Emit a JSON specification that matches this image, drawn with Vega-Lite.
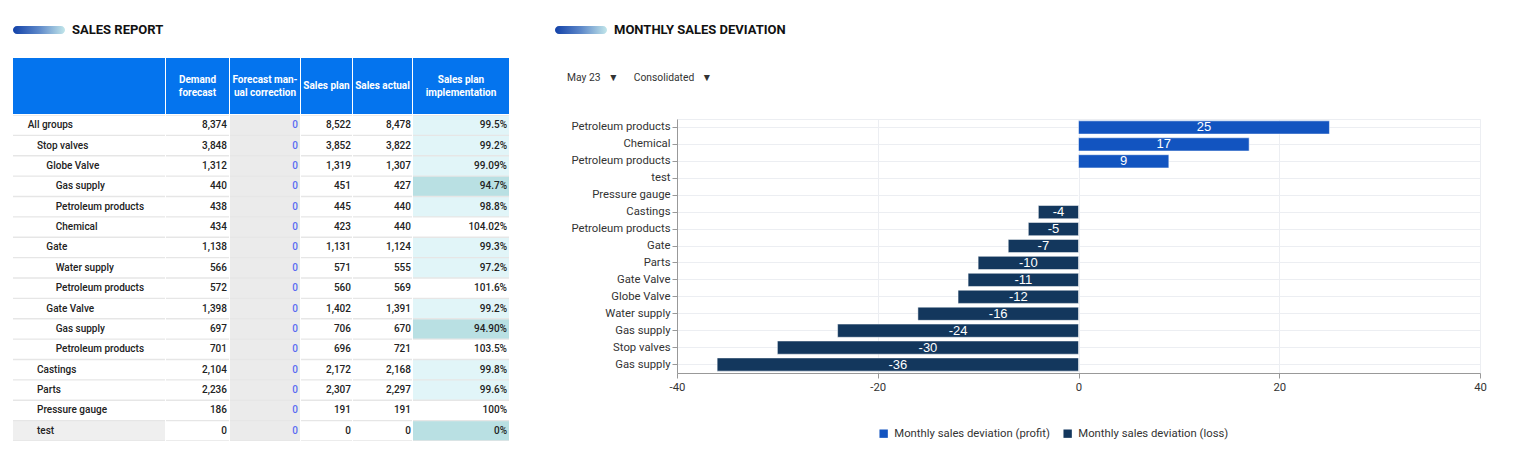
{
  "$schema": "https://vega.github.io/schema/vega-lite/v6.json",
  "padding": {"left": 13, "top": 22, "right": 0, "bottom": 0},
  "config": {"font": "Roboto", "view": {"stroke": null},
    "locale": {"number": {"decimal": ".", "thousands": ",", "grouping": [3], "currency": ["$", ""], "minus": "-"}}},
  "datasets": {
    "table": [
      {"row": 1, "name": "All groups", "level": 0, "demand": 8374, "correction": 0, "plan": 8522, "actual": 8478, "impl": 99.5, "implLabel": "99.5%"},
      {"row": 2, "name": "Stop valves", "level": 1, "demand": 3848, "correction": 0, "plan": 3852, "actual": 3822, "impl": 99.2, "implLabel": "99.2%"},
      {"row": 3, "name": "Globe Valve", "level": 2, "demand": 1312, "correction": 0, "plan": 1319, "actual": 1307, "impl": 99.09, "implLabel": "99.09%"},
      {"row": 4, "name": "Gas supply", "level": 3, "demand": 440, "correction": 0, "plan": 451, "actual": 427, "impl": 94.7, "implLabel": "94.7%"},
      {"row": 5, "name": "Petroleum products", "level": 3, "demand": 438, "correction": 0, "plan": 445, "actual": 440, "impl": 98.8, "implLabel": "98.8%"},
      {"row": 6, "name": "Chemical", "level": 3, "demand": 434, "correction": 0, "plan": 423, "actual": 440, "impl": 104.02, "implLabel": "104.02%"},
      {"row": 7, "name": "Gate", "level": 2, "demand": 1138, "correction": 0, "plan": 1131, "actual": 1124, "impl": 99.3, "implLabel": "99.3%"},
      {"row": 8, "name": "Water supply", "level": 3, "demand": 566, "correction": 0, "plan": 571, "actual": 555, "impl": 97.2, "implLabel": "97.2%"},
      {"row": 9, "name": "Petroleum products", "level": 3, "demand": 572, "correction": 0, "plan": 560, "actual": 569, "impl": 101.6, "implLabel": "101.6%"},
      {"row": 10, "name": "Gate Valve", "level": 2, "demand": 1398, "correction": 0, "plan": 1402, "actual": 1391, "impl": 99.2, "implLabel": "99.2%"},
      {"row": 11, "name": "Gas supply", "level": 3, "demand": 697, "correction": 0, "plan": 706, "actual": 670, "impl": 94.9, "implLabel": "94.90%"},
      {"row": 12, "name": "Petroleum products", "level": 3, "demand": 701, "correction": 0, "plan": 696, "actual": 721, "impl": 103.5, "implLabel": "103.5%"},
      {"row": 13, "name": "Castings", "level": 1, "demand": 2104, "correction": 0, "plan": 2172, "actual": 2168, "impl": 99.8, "implLabel": "99.8%"},
      {"row": 14, "name": "Parts", "level": 1, "demand": 2236, "correction": 0, "plan": 2307, "actual": 2297, "impl": 99.6, "implLabel": "99.6%"},
      {"row": 15, "name": "Pressure gauge", "level": 1, "demand": 186, "correction": 0, "plan": 191, "actual": 191, "impl": 100, "implLabel": "100%"},
      {"row": 16, "name": "test", "level": 1, "demand": 0, "correction": 0, "plan": 0, "actual": 0, "impl": 0, "implLabel": "0%"}
    ],
    "deviation": [
      {"path": "Gate Valve/Petroleum products", "value": 25, "type": "Monthly sales deviation (profit)"},
      {"path": "Globe Valve/Chemical", "value": 17, "type": "Monthly sales deviation (profit)"},
      {"path": "Gate/Petroleum products", "value": 9, "type": "Monthly sales deviation (profit)"},
      {"path": "test", "value": 0, "type": "Monthly sales deviation (profit)"},
      {"path": "Pressure gauge", "value": 0, "type": "Monthly sales deviation (profit)"},
      {"path": "Castings", "value": -4, "type": "Monthly sales deviation (loss)"},
      {"path": "Globe Valve/Petroleum products", "value": -5, "type": "Monthly sales deviation (loss)"},
      {"path": "Gate", "value": -7, "type": "Monthly sales deviation (loss)"},
      {"path": "Parts", "value": -10, "type": "Monthly sales deviation (loss)"},
      {"path": "Gate Valve", "value": -11, "type": "Monthly sales deviation (loss)"},
      {"path": "Globe Valve", "value": -12, "type": "Monthly sales deviation (loss)"},
      {"path": "Gate/Water supply", "value": -16, "type": "Monthly sales deviation (loss)"},
      {"path": "Globe Valve/Gas supply", "value": -24, "type": "Monthly sales deviation (loss)"},
      {"path": "Stop valves", "value": -30, "type": "Monthly sales deviation (loss)"},
      {"path": "Gate Valve/Gas supply", "value": -36, "type": "Monthly sales deviation (loss)"}
    ]
  },
  "resolve": {"scale": {"color": "independent"}, "legend": {"color": "independent"}},
  "hconcat": [
    {
      "spacing": 20,
      "resolve": {"scale": {"color": "independent"}, "legend": {"color": "independent"}},
      "vconcat": [
        {
          "spacing": 7,
          "hconcat": [
            {
              "width": 52, "height": 16, "data": {"values": [{}]},
              "mark": {"type": "rect", "cornerRadius": 4, "fill": {"gradient": "linear", "x1": 0, "x2": 1, "y1": 0, "y2": 0, "stops": [{"offset": 0, "color": "#1241a8"}, {"offset": 0.5, "color": "#5d88c9"}, {"offset": 1, "color": "#c2e6ea"}]}},
              "encoding": {
                "x": {"datum": 0, "type": "quantitative", "scale": {"domain": [0, 1]}, "axis": null},
                "x2": {"datum": 1},
                "y": {"datum": 0.25, "type": "quantitative", "scale": {"domain": [0, 1]}, "axis": null},
                "y2": {"datum": 0.75}
              }
            },
            {
              "width": 200, "height": 16, "data": {"values": [{}]},
              "mark": {"type": "text", "text": "SALES REPORT", "align": "left", "baseline": "middle", "fontSize": 13, "fontWeight": "bold", "color": "#111111"},
              "encoding": {"x": {"datum": 0, "type": "quantitative", "scale": {"domain": [0, 1]}, "axis": null}}
            }
          ]
        },
        {
          "spacing": 1,
          "resolve": {"scale": {"color": "independent"}, "legend": {"color": "independent"}},
          "vconcat": [
            {
              "spacing": 1,
              "hconcat": [
                {"width": 152, "height": 56, "data": {"values": [{}]}, "mark": {"type": "rect", "color": "#0474ee"}},
                {"width": 63, "height": 56, "data": {"values": [{}]}, "layer": [
                  {"mark": {"type": "rect", "color": "#0474ee"}},
                  {"mark": {"type": "text", "text": ["Demand", "forecast"], "color": "#ffffff", "fontSize": 10, "fontWeight": "bold", "lineHeight": 13, "baseline": "middle", "dy": -6.5}}
                ]},
                {"width": 70, "height": 56, "data": {"values": [{}]}, "layer": [
                  {"mark": {"type": "rect", "color": "#0474ee"}},
                  {"mark": {"type": "text", "text": ["Forecast man-", "ual correction"], "color": "#ffffff", "fontSize": 10, "fontWeight": "bold", "lineHeight": 13, "baseline": "middle", "dy": -6.5}}
                ]},
                {"width": 51, "height": 56, "data": {"values": [{}]}, "layer": [
                  {"mark": {"type": "rect", "color": "#0474ee"}},
                  {"mark": {"type": "text", "text": "Sales plan", "color": "#ffffff", "fontSize": 10, "fontWeight": "bold", "baseline": "middle"}}
                ]},
                {"width": 59, "height": 56, "data": {"values": [{}]}, "layer": [
                  {"mark": {"type": "rect", "color": "#0474ee"}},
                  {"mark": {"type": "text", "text": "Sales actual", "color": "#ffffff", "fontSize": 10, "fontWeight": "bold", "baseline": "middle"}}
                ]},
                {"width": 96, "height": 56, "data": {"values": [{}]}, "layer": [
                  {"mark": {"type": "rect", "color": "#0474ee"}},
                  {"mark": {"type": "text", "text": ["Sales plan", "implementation"], "color": "#ffffff", "fontSize": 10, "fontWeight": "bold", "lineHeight": 13, "baseline": "middle", "dy": -6.5}}
                ]}
              ]
            },
            {
              "spacing": 1,
              "resolve": {"scale": {"color": "independent"}, "legend": {"color": "independent"}},
              "hconcat": [
                {
                  "width": 152, "height": 326, "data": {"name": "table"}, "view": {"fill": "#e6e6e6"},
                  "encoding": {"y": {"field": "row", "type": "ordinal", "axis": null, "scale": {"paddingInner": 0.07, "paddingOuter": 0.035}}},
                  "layer": [
                    {"mark": {"type": "rect"}, "encoding": {
                      "x": {"datum": 0, "type": "quantitative", "scale": {"domain": [0, 1]}, "axis": null}, "x2": {"datum": 1},
                      "color": {"condition": {"test": "datum.name === 'test'", "value": "#efefef"}, "value": "#ffffff"}}},
                    {"mark": {"type": "text", "align": "left", "baseline": "middle", "fontSize": 10, "fontWeight": 500, "color": "#222222"}, "encoding": {
                      "x": {"field": "level", "type": "quantitative", "scale": {"domain": [-1.575, 14.71], "nice": false, "zero": false}, "axis": null},
                      "text": {"field": "name", "type": "nominal"}}}
                  ],
                  "resolve": {"scale": {"x": "independent"}}
                },
                {
                  "width": 63, "height": 326, "data": {"name": "table"}, "view": {"fill": "#e6e6e6"},
                  "encoding": {"y": {"field": "row", "type": "ordinal", "axis": null, "scale": {"paddingInner": 0.07, "paddingOuter": 0.035}},
                    "x": {"datum": 0, "type": "quantitative", "scale": {"domain": [0, 1]}, "axis": null}},
                  "layer": [
                    {"mark": {"type": "rect", "color": "#ffffff"}, "encoding": {"x2": {"datum": 1}}},
                    {"mark": {"type": "text", "align": "right", "dx": -2, "baseline": "middle", "fontSize": 10, "fontWeight": 500, "color": "#222222"}, "encoding": {
                      "x": {"datum": 1, "type": "quantitative"},
                      "text": {"field": "demand", "type": "quantitative", "format": ","}}}
                  ]
                },
                {
                  "width": 70, "height": 326, "data": {"name": "table"}, "view": {"fill": "#e6e6e6"},
                  "encoding": {"y": {"field": "row", "type": "ordinal", "axis": null, "scale": {"paddingInner": 0.07, "paddingOuter": 0.035}},
                    "x": {"datum": 0, "type": "quantitative", "scale": {"domain": [0, 1]}, "axis": null}},
                  "layer": [
                    {"mark": {"type": "rect", "color": "#ebebeb"}, "encoding": {"x2": {"datum": 1}}},
                    {"mark": {"type": "text", "align": "right", "dx": -2, "baseline": "middle", "fontSize": 10, "fontWeight": 500, "color": "#5b6cf2"}, "encoding": {
                      "x": {"datum": 1, "type": "quantitative"},
                      "text": {"field": "correction", "type": "quantitative", "format": ","}}}
                  ]
                },
                {
                  "width": 51, "height": 326, "data": {"name": "table"}, "view": {"fill": "#e6e6e6"},
                  "encoding": {"y": {"field": "row", "type": "ordinal", "axis": null, "scale": {"paddingInner": 0.07, "paddingOuter": 0.035}},
                    "x": {"datum": 0, "type": "quantitative", "scale": {"domain": [0, 1]}, "axis": null}},
                  "layer": [
                    {"mark": {"type": "rect", "color": "#ffffff"}, "encoding": {"x2": {"datum": 1}}},
                    {"mark": {"type": "text", "align": "right", "dx": -1, "baseline": "middle", "fontSize": 10, "fontWeight": 500, "color": "#222222"}, "encoding": {
                      "x": {"datum": 1, "type": "quantitative"},
                      "text": {"field": "plan", "type": "quantitative", "format": ","}}}
                  ]
                },
                {
                  "width": 59, "height": 326, "data": {"name": "table"}, "view": {"fill": "#e6e6e6"},
                  "encoding": {"y": {"field": "row", "type": "ordinal", "axis": null, "scale": {"paddingInner": 0.07, "paddingOuter": 0.035}},
                    "x": {"datum": 0, "type": "quantitative", "scale": {"domain": [0, 1]}, "axis": null}},
                  "layer": [
                    {"mark": {"type": "rect", "color": "#ffffff"}, "encoding": {"x2": {"datum": 1}}},
                    {"mark": {"type": "text", "align": "right", "dx": -1, "baseline": "middle", "fontSize": 10, "fontWeight": 500, "color": "#222222"}, "encoding": {
                      "x": {"datum": 1, "type": "quantitative"},
                      "text": {"field": "actual", "type": "quantitative", "format": ","}}}
                  ]
                },
                {
                  "width": 96, "height": 326, "data": {"name": "table"}, "view": {"fill": "#e6e6e6"},
                  "encoding": {"y": {"field": "row", "type": "ordinal", "axis": null, "scale": {"paddingInner": 0.07, "paddingOuter": 0.035}},
                    "x": {"datum": 0, "type": "quantitative", "scale": {"domain": [0, 1]}, "axis": null}},
                  "layer": [
                    {"mark": {"type": "rect"}, "encoding": {"x2": {"datum": 1},
                      "color": {"field": "impl", "type": "quantitative", "scale": {"type": "threshold", "domain": [95, 100], "range": ["#b9e0e3", "#e1f5f8", "#ffffff"]}, "legend": null}}},
                    {"mark": {"type": "text", "align": "right", "dx": -2, "baseline": "middle", "fontSize": 10, "fontWeight": 500, "color": "#222222"}, "encoding": {
                      "x": {"datum": 1, "type": "quantitative"},
                      "text": {"field": "implLabel", "type": "nominal"}}}
                  ]
                }
              ]
            }
          ]
        }
      ]
    },
    {
      "spacing": 20,
      "resolve": {"scale": {"color": "independent"}, "legend": {"color": "independent"}},
      "vconcat": [
        {
          "spacing": 7,
          "hconcat": [
            {
              "width": 52, "height": 16, "data": {"values": [{}]},
              "mark": {"type": "rect", "cornerRadius": 4, "fill": {"gradient": "linear", "x1": 0, "x2": 1, "y1": 0, "y2": 0, "stops": [{"offset": 0, "color": "#1241a8"}, {"offset": 0.5, "color": "#5d88c9"}, {"offset": 1, "color": "#c2e6ea"}]}},
              "encoding": {
                "x": {"datum": 0, "type": "quantitative", "scale": {"domain": [0, 1]}, "axis": null},
                "x2": {"datum": 1},
                "y": {"datum": 0.25, "type": "quantitative", "scale": {"domain": [0, 1]}, "axis": null},
                "y2": {"datum": 0.75}
              }
            },
            {
              "width": 250, "height": 16, "data": {"values": [{}]},
              "mark": {"type": "text", "text": "MONTHLY SALES DEVIATION", "align": "left", "baseline": "middle", "fontSize": 13, "fontWeight": "bold", "color": "#111111"},
              "encoding": {"x": {"datum": 0, "type": "quantitative", "scale": {"domain": [0, 1]}, "axis": null}}
            }
          ]
        },
        {
          "width": 250, "height": 40, "data": {"values": [{}]},
          "mark": {"type": "text", "text": "May 23\u00a0\u00a0\u00a0▼\u00a0\u00a0\u00a0\u00a0\u00a0\u00a0Consolidated\u00a0\u00a0\u00a0▼", "align": "left", "baseline": "middle", "dx": 12, "fontSize": 10.3, "color": "#333333"},
          "encoding": {"x": {"datum": 0, "type": "quantitative", "scale": {"domain": [0, 1]}, "axis": null}}
        },
        {
          "spacing": 0,
          "resolve": {"scale": {"color": "independent"}, "legend": {"color": "independent"}},
          "hconcat": [
            {
              "width": 1, "height": 1, "data": {"values": [{}]},
              "mark": {"type": "rect", "fillOpacity": 0, "strokeOpacity": 0}
            },
            {
              "width": 803, "height": 254, "data": {"name": "deviation"},
              "view": {"stroke": "#eceef2"},
              "encoding": {
                "y": {"field": "path", "type": "nominal", "sort": null,
                  "scale": {"paddingInner": 0.22, "paddingOuter": 0.11},
                  "axis": {"title": null, "labelExpr": "peek(split(datum.label, '/'))", "minExtent": 120, "labelFontSize": 11.3, "labelColor": "#333333", "tickColor": "#999999", "domainColor": "#999999", "tickSize": 5, "labelPadding": 2, "grid": true, "gridColor": "#eceef2"}}
              },
              "layer": [
                {
                  "mark": {"type": "bar", "stroke": "#ffffff", "strokeOpacity": 0.5, "strokeWidth": 1},
                  "encoding": {
                    "x": {"field": "value", "type": "quantitative", "scale": {"domain": [-40, 40]},
                      "axis": {"title": null, "values": [-40, -20, 0, 20, 40], "labelFlush": false, "labelFontSize": 11.3, "labelColor": "#333333", "tickColor": "#999999", "domainColor": "#999999", "tickSize": 5, "labelPadding": 3, "grid": true, "gridColor": "#eceef2"}},
                    "color": {"field": "type", "type": "nominal",
                      "scale": {"domain": ["Monthly sales deviation (profit)", "Monthly sales deviation (loss)"], "range": ["#1254c0", "#13375d"]},
                      "legend": {"title": null, "orient": "none", "direction": "horizontal", "legendX": 201, "legendY": 309, "symbolType": "square", "symbolSize": 70, "symbolStrokeWidth": 0, "labelFontSize": 11.3, "labelColor": "#333333", "columnPadding": 12, "labelOffset": 5}}
                  }
                },
                {
                  "transform": [{"filter": "datum.value != 0"}],
                  "mark": {"type": "text", "color": "#ffffff", "font": "Liberation Sans", "fontSize": 13, "baseline": "middle"},
                  "encoding": {
                    "x": {"field": "value", "type": "quantitative", "scale": {"domain": [-80, 80]}, "axis": null},
                    "text": {"field": "value", "type": "quantitative"}
                  }
                }
              ],
              "resolve": {"scale": {"x": "independent"}}
            }
          ]
        }
      ]
    }
  ],
  "spacing": 46
}
